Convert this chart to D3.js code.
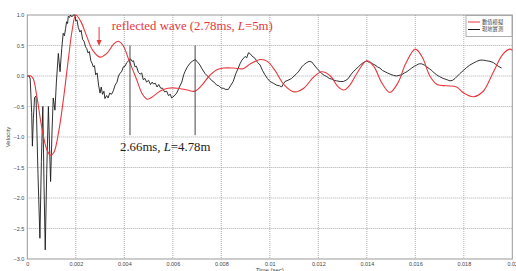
<!DOCTYPE html>
<html>
<head>
<meta charset="utf-8">
<script src="https://cdn.jsdelivr.net/npm/d3@7"></script>
<style>
  body { margin: 0; background: #fff; }
  svg { display: block; }
</style>
</head>
<body>
<div id="chart"></div>
<script>
// time in ms, velocity normalised
const simTime = [0, 0.15, 0.25, 0.4, 0.6, 0.8, 0.96, 1.1, 1.3, 1.5, 1.7, 1.85, 2.0, 2.2, 2.45, 2.7, 3.0, 3.3, 3.55, 3.74, 3.95, 4.2, 4.5, 4.75, 4.95, 5.2, 5.5, 5.8, 6.2, 6.6, 6.9, 7.2, 7.5, 7.8, 8.1, 8.5, 8.9, 9.2, 9.6, 9.9, 10.2, 10.6, 11.0, 11.4, 11.8, 12.15, 12.5, 12.8, 13.05, 13.3, 13.6, 14.0, 14.3, 14.6, 14.95, 15.3, 15.6, 16.0, 16.3, 16.6, 16.9, 17.3, 17.7, 18.0, 18.4, 18.8, 19.2, 19.6, 19.9, 20.0]
const simVel = [0, 0, -0.05, -0.35, -0.85, -1.2, -1.3, -1.25, -0.9, -0.35, 0.3, 0.75, 1.0, 0.9, 0.65, 0.42, 0.31, 0.38, 0.52, 0.57, 0.5, 0.25, -0.05, -0.3, -0.38, -0.33, -0.24, -0.2, -0.2, -0.23, -0.25, -0.15, 0.0, 0.1, 0.13, 0.13, 0.12, 0.2, 0.27, 0.24, 0.1, -0.15, -0.26, -0.2, -0.02, 0.07, 0.0, -0.17, -0.23, -0.15, 0.05, 0.25, 0.15, -0.1, -0.27, -0.1, 0.2, 0.44, 0.3, 0.0, -0.14, -0.16, -0.18, -0.28, -0.34, -0.25, 0.05, 0.35, 0.44, 0.42]

const fieldTime = [0, 0.08, 0.12, 0.18, 0.21, 0.25, 0.3, 0.36, 0.44, 0.52, 0.58, 0.64, 0.69, 0.74, 0.8, 0.87, 0.92, 0.96, 1.02, 1.07, 1.14, 1.2, 1.28, 1.35, 1.42, 1.48, 1.53, 1.58, 1.62, 1.66, 1.69, 1.74, 1.78, 1.84, 1.9, 1.97, 2.0, 2.05, 2.1, 2.17, 2.22, 2.28, 2.34, 2.4, 2.45, 2.5, 2.56, 2.62, 2.68, 2.72, 2.77, 2.82, 2.88, 2.94, 3.0, 3.05, 3.1, 3.16, 3.2, 3.27, 3.33, 3.4, 3.47, 3.55, 3.62, 3.7, 3.76, 3.82, 3.9, 3.96, 4.03, 4.1, 4.18, 4.26, 4.32, 4.38, 4.44, 4.5, 4.58, 4.65, 4.72, 4.78, 4.85, 4.92, 5.0, 5.08, 5.15, 5.2, 5.28, 5.35, 5.42, 5.5, 5.58, 5.66, 5.75, 5.82, 5.9, 5.95, 6.05, 6.16, 6.25, 6.37, 6.45, 6.5, 6.6, 6.71, 6.8, 6.92, 7.0, 7.12, 7.2, 7.33, 7.43, 7.53, 7.62, 7.7, 7.81, 7.9, 8.0, 8.08, 8.18, 8.29, 8.38, 8.49, 8.6, 8.7, 8.77, 8.85, 8.98, 9.05, 9.12, 9.18, 9.26, 9.39, 9.5, 9.6, 9.7, 9.8, 9.9, 10.01, 10.15, 10.28, 10.4, 10.49, 10.56, 10.63, 10.75, 10.9, 11.0, 11.11, 11.2, 11.32, 11.42, 11.52, 11.62, 11.73, 11.83, 11.93, 12.05, 12.14, 12.25, 12.35, 12.45, 12.55, 12.65, 12.76, 12.9, 13.03, 13.14, 13.24, 13.34, 13.44, 13.55, 13.65, 13.76, 13.86, 14.0, 14.06, 14.13, 14.24, 14.34, 14.44, 14.54, 14.65, 14.75, 14.85, 14.96, 15.1, 15.23, 15.33, 15.44, 15.55, 15.65, 15.75, 15.85, 15.96, 16.06, 16.16, 16.26, 16.37, 16.47, 16.58, 16.68, 16.78, 16.88, 17.0, 17.15, 17.3, 17.43, 17.54, 17.64, 17.74, 17.84, 17.98, 18.12, 18.25, 18.39, 18.53, 18.67, 18.8, 18.94, 19.08, 19.22, 19.32, 19.42, 19.56]
const fieldVel = [0, 0, -0.05, -0.6, -1.15, -0.7, -0.35, -0.33, -1.6, -2.66, -1.4, -0.5, -1.8, -2.85, -1.6, -0.5, -1.2, -1.73, -0.9, -0.36, -0.56, -0.1, 0.37, 0.07, 0.45, 0.7, 0.66, 0.78, 0.89, 0.86, 0.98, 0.96, 1.0, 0.97, 1.0, 1.0, 0.9, 0.92, 0.8, 0.72, 0.75, 0.6, 0.57, 0.48, 0.45, 0.38, 0.4, 0.25, 0.2, 0.15, 0.17, 0.02, 0.05, -0.15, -0.28, -0.18, -0.3, -0.25, -0.37, -0.32, -0.36, -0.28, -0.3, -0.24, -0.15, -0.1, 0.0, 0.04, 0.08, 0.15, 0.16, 0.22, 0.25, 0.28, 0.24, 0.25, 0.15, 0.16, 0.06, 0.03, 0.05, -0.06, -0.04, -0.1, -0.07, -0.14, -0.1, -0.13, -0.12, -0.18, -0.14, -0.2, -0.2, -0.26, -0.25, -0.32, -0.3, -0.36, -0.33, -0.28, -0.2, -0.1, 0.02, 0.07, 0.15, 0.21, 0.24, 0.27, 0.24, 0.18, 0.12, 0.04, 0.0, -0.04, -0.08, -0.1, -0.15, -0.16, -0.2, -0.2, -0.22, -0.22, -0.16, -0.09, 0.04, 0.13, 0.2, 0.26, 0.32, 0.3, 0.38, 0.37, 0.33, 0.29, 0.22, 0.18, 0.09, 0.02, -0.04, -0.09, -0.12, -0.15, -0.16, -0.18, -0.13, -0.09, -0.07, -0.04, 0.0, 0.04, 0.08, 0.15, 0.19, 0.22, 0.24, 0.23, 0.18, 0.13, 0.08, 0.04, 0.01, -0.01, -0.04, -0.05, -0.07, -0.08, -0.09, -0.09, -0.07, -0.04, 0.02, 0.07, 0.11, 0.15, 0.19, 0.22, 0.25, 0.23, 0.23, 0.2, 0.18, 0.15, 0.13, 0.09, 0.07, 0.05, 0.03, 0.01, 0.0, 0.01, 0.02, 0.05, 0.07, 0.1, 0.13, 0.16, 0.18, 0.2, 0.2, 0.18, 0.15, 0.12, 0.09, 0.05, 0.02, -0.01, -0.04, -0.06, -0.08, -0.07, -0.04, 0.0, 0.04, 0.09, 0.14, 0.18, 0.21, 0.24, 0.26, 0.26, 0.25, 0.24, 0.22, 0.19, 0.16, 0.13]

const xTicks = [0, 2, 4, 6, 8, 10, 12, 14, 16, 18, 20]
const yTicks = [1, 0.5, 0, -0.5, -1, -1.5, -2, -2.5, -3]
const seriesNames = ["數值模擬", "現地實測"]
const markTimes = [4.235, 6.92]   // the two black marker lines

const width = 516
const height = 271
const margin = { top: 15, right: 3.7, bottom: 12, left: 27.3 }
const red = "#e8383d"

const svg = d3.select("#chart").append("svg")
    .attr("width", width)
    .attr("height", height)

const x = d3.scaleLinear().domain([0, 20]).range([margin.left, width - margin.right])
const y = d3.scaleLinear().domain([-3, 1]).range([height - margin.bottom, margin.top])

// grid
svg.append("g")
    .selectAll("line")
    .data(xTicks.slice(1, -1))
    .enter().append("line")
    .attr("x1", d => x(d)).attr("x2", d => x(d))
    .attr("y1", y(1)).attr("y2", y(-3))
    .attr("stroke", "#999").attr("stroke-width", 0.8).attr("stroke-dasharray", "1,1")

svg.append("g")
    .selectAll("line")
    .data(yTicks.slice(1, -1))
    .enter().append("line")
    .attr("x1", x(0)).attr("x2", x(20))
    .attr("y1", d => y(d)).attr("y2", d => y(d))
    .attr("stroke", "#999").attr("stroke-width", 0.8).attr("stroke-dasharray", "1,1")

// axes
svg.append("g")
    .attr("transform", `translate(0,${y(-3)})`)
    .call(d3.axisBottom(x).tickValues(xTicks).tickSize(0).tickPadding(3)
        .tickFormat(d => d === 0 ? "0" : String(d / 1000)))
svg.append("g")
    .attr("transform", `translate(${x(0)},0)`)
    .call(d3.axisLeft(y).tickValues(yTicks).tickSize(0).tickPadding(3))

svg.selectAll(".tick text")
    .attr("font-family", "Liberation Sans, Arial, sans-serif")
    .attr("font-size", 5.5)
    .attr("fill", "#444")
svg.selectAll(".domain").remove()

svg.append("rect")
    .attr("x", x(0)).attr("y", y(1))
    .attr("width", x(20) - x(0)).attr("height", y(-3) - y(1))
    .attr("fill", "none").attr("stroke", "#999").attr("stroke-width", 1)

svg.append("text")
    .attr("transform", `translate(10,${(y(1) + y(-3)) / 2}) rotate(-90)`)
    .attr("text-anchor", "middle")
    .attr("font-family", "Liberation Sans, Arial, sans-serif")
    .attr("font-size", 6).attr("fill", "#444")
    .text("Velocity")

svg.append("text")
    .attr("x", (x(0) + x(20)) / 2).attr("y", 272)
    .attr("text-anchor", "middle")
    .attr("font-family", "Liberation Sans, Arial, sans-serif")
    .attr("font-size", 6).attr("fill", "#444")
    .text("Time (sec)")

// curves
const simData = simTime.map((t, i) => [t, simVel[i]])
const fieldData = fieldTime.map((t, i) => [t, fieldVel[i]])

svg.append("path")
    .datum(fieldData)
    .attr("fill", "none").attr("stroke", "#1a1a1a").attr("stroke-width", 0.9)
    .attr("d", d3.line().x(d => x(d[0])).y(d => y(d[1])))

svg.append("path")
    .datum(simData)
    .attr("fill", "none").attr("stroke", red).attr("stroke-width", 1.1)
    .attr("d", d3.line().curve(d3.curveCatmullRom).x(d => x(d[0])).y(d => y(d[1])))

// marker lines
svg.selectAll(".mark")
    .data(markTimes)
    .enter().append("line")
    .attr("x1", d => x(d)).attr("x2", d => x(d))
    .attr("y1", y(0.5)).attr("y2", y(-0.97))
    .attr("stroke", "#333").attr("stroke-width", 0.9)

// annotations
const ann1 = svg.append("text")
    .attr("x", 111.7).attr("y", 30)
    .attr("font-family", "Liberation Serif, Times New Roman, serif")
    .attr("font-size", 12.8).attr("fill", red)
ann1.append("tspan").text("reflected wave (2.78ms, ")
ann1.append("tspan").attr("font-style", "italic").text("L")
ann1.append("tspan").text("=5m)")

const ann2 = svg.append("text")
    .attr("x", 120).attr("y", 151)
    .attr("font-family", "Liberation Serif, Times New Roman, serif")
    .attr("font-size", 12.8).attr("fill", "#222")
ann2.append("tspan").text("2.66ms, ")
ann2.append("tspan").attr("font-style", "italic").text("L")
ann2.append("tspan").text("=4.78m")

// red arrow
const ax = x(2.96)
svg.append("line")
    .attr("x1", ax).attr("x2", ax).attr("y1", 27).attr("y2", 41)
    .attr("stroke", red).attr("stroke-width", 1)
svg.append("path")
    .attr("d", `M${ax - 2.5},40 L${ax + 2.5},40 L${ax},46 Z`)
    .attr("fill", red)

// legend
const lg = svg.append("g").attr("transform", "translate(466,15.5)")
lg.append("rect").attr("width", 46).attr("height", 21)
    .attr("fill", "#fff").attr("stroke", "#999").attr("stroke-width", 0.8)
const lgColors = [red, "#1a1a1a"]
seriesNames.forEach((name, i) => {
    lg.append("line")
        .attr("x1", 2).attr("x2", 14).attr("y1", 6.5 + i * 7.5).attr("y2", 6.5 + i * 7.5)
        .attr("stroke", lgColors[i]).attr("stroke-width", 1)
    lg.append("text")
        .attr("x", 16).attr("y", 8.4 + i * 7.5)
        .attr("font-family", "Noto Sans CJK TC, sans-serif")
        .attr("font-size", 5.3).attr("fill", "#444")
        .text(name)
})
</script>
</body>
</html>
